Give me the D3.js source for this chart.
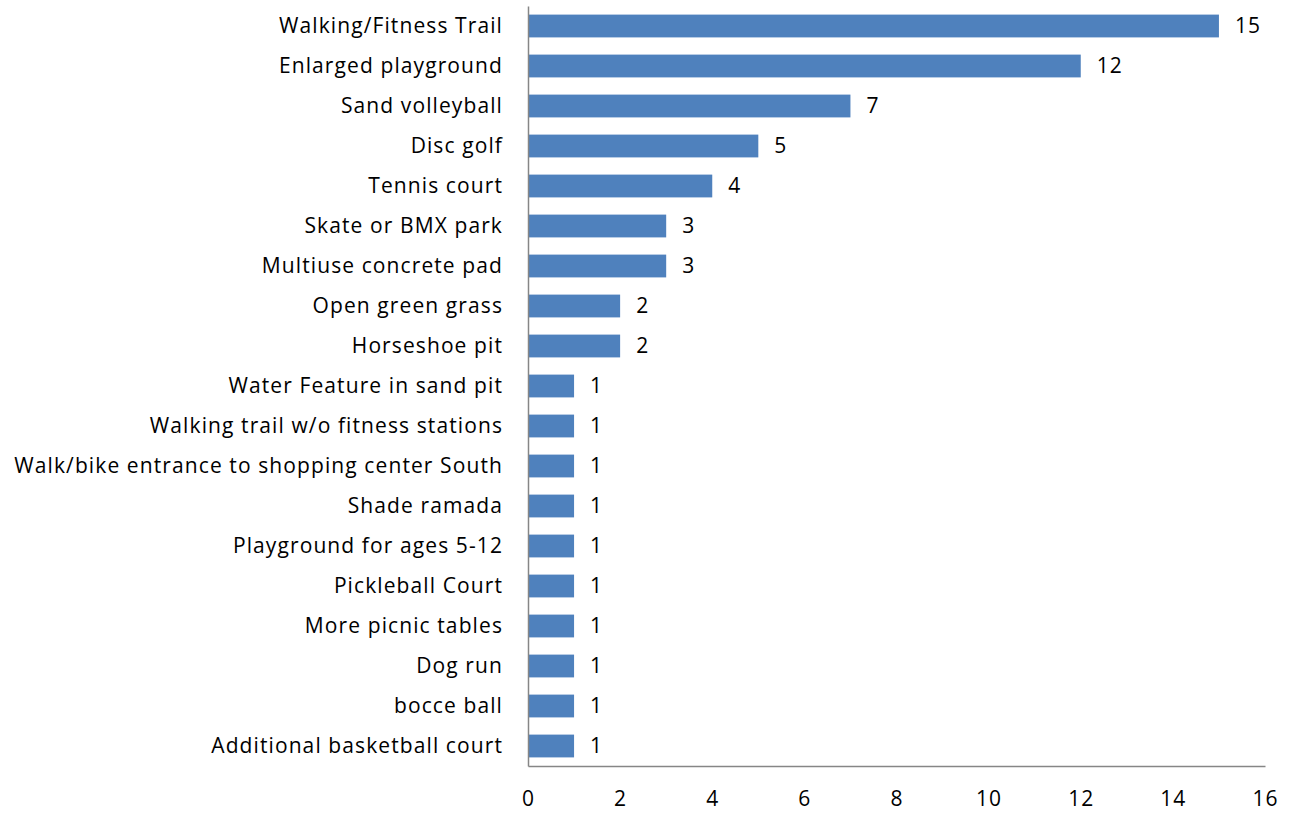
<!DOCTYPE html>
<html>
<head>
<meta charset="utf-8">
<script src="https://cdn.jsdelivr.net/npm/d3@7"></script>
<style>
  body { margin: 0; background: #fff; }
  svg text { font-family: "Open Sans", Lato, sans-serif; fill: #000; }
</style>
</head>
<body>
<svg id="chart"></svg>
<script>
// Chart size and plot frame
const width = 1297;
const height = 814;
const margin = { top: 6, right: 32, bottom: 48, left: 528 };

// Data (top to bottom)
const categories = [
  "Walking/Fitness Trail",
  "Enlarged playground",
  "Sand volleyball",
  "Disc golf",
  "Tennis court",
  "Skate or BMX park",
  "Multiuse concrete pad",
  "Open green grass",
  "Horseshoe pit",
  "Water Feature in sand pit",
  "Walking trail w/o fitness stations",
  "Walk/bike entrance to shopping center South",
  "Shade ramada",
  "Playground for ages 5-12",
  "Pickleball Court",
  "More picnic tables",
  "Dog run",
  "bocce ball",
  "Additional basketball court"
];
const counts = [15, 12, 7, 5, 4, 3, 3, 2, 2, 1, 1, 1, 1, 1, 1, 1, 1, 1, 1];
const xTicks = [0, 2, 4, 6, 8, 10, 12, 14, 16];

const barColor = "#4F81BD";
const axisColor = "#868686";
const fontSize = "21px";
const spacing = "1.1px";

const svg = d3.select("#chart")
  .attr("width", width)
  .attr("height", height);

const x = d3.scaleLinear()
  .domain([0, 16])
  .range([margin.left, width - margin.right]);

const y = d3.scaleBand()
  .domain(categories)
  .range([margin.top, height - margin.bottom])
  .paddingInner(0.43)
  .paddingOuter(0.215);

// Bars
svg.append("g").selectAll("rect")
  .data(categories)
  .enter()
  .append("rect")
  .attr("x", x(0))
  .attr("y", (d) => y(d))
  .attr("width", (d, i) => x(counts[i]) - x(0))
  .attr("height", y.bandwidth())
  .attr("fill", barColor);

// Value labels
svg.append("g").selectAll("text")
  .data(categories)
  .enter()
  .append("text")
  .attr("x", (d, i) => x(counts[i]) + 16)
  .attr("y", (d) => y(d) + y.bandwidth() / 2)
  .attr("dy", "0.35em")
  .style("font-size", fontSize)
  .style("letter-spacing", spacing)
  .text((d, i) => counts[i]);

// Category axis (left)
const yAxis = svg.append("g")
  .attr("transform", "translate(" + x(0) + ",0)")
  .call(d3.axisLeft(y).tickSize(0).tickPadding(25));
yAxis.select(".domain").attr("stroke", axisColor).attr("stroke-width", 1.5);
yAxis.selectAll("text")
  .style("font-size", fontSize)
  .style("letter-spacing", spacing);

// Value axis (bottom)
const xAxis = svg.append("g")
  .attr("transform", "translate(0," + (height - margin.bottom) + ")")
  .call(d3.axisBottom(x).tickValues(xTicks).tickSize(0).tickPadding(25));
xAxis.select(".domain").attr("stroke", axisColor).attr("stroke-width", 1.5);
xAxis.selectAll("text")
  .style("font-size", fontSize)
  .style("letter-spacing", spacing);
</script>
</body>
</html>
